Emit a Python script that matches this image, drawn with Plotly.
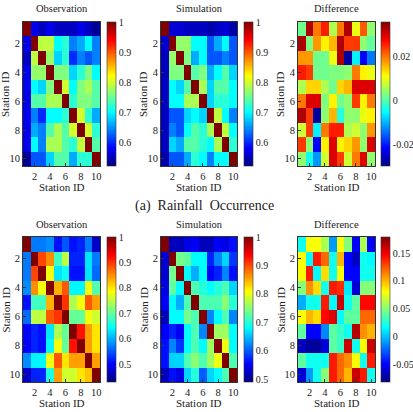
import plotly.graph_objects as go

stations = list(range(1, 11))
tick_vals = [2, 4, 6, 8, 10]

occ_obs = [
    [1.00, 0.57, 0.55, 0.57, 0.55, 0.55, 0.55, 0.57, 0.55, 0.53],
    [0.57, 1.00, 0.79, 0.79, 0.70, 0.72, 0.64, 0.66, 0.70, 0.64],
    [0.55, 0.79, 1.00, 0.77, 0.68, 0.72, 0.60, 0.64, 0.62, 0.64],
    [0.57, 0.77, 0.77, 1.00, 0.76, 0.76, 0.68, 0.72, 0.76, 0.70],
    [0.57, 0.70, 0.68, 0.76, 1.00, 0.80, 0.70, 0.76, 0.78, 0.74],
    [0.57, 0.74, 0.74, 0.78, 0.78, 1.00, 0.72, 0.76, 0.76, 0.74],
    [0.57, 0.64, 0.60, 0.70, 0.70, 0.72, 1.00, 0.80, 0.72, 0.66],
    [0.57, 0.66, 0.64, 0.74, 0.78, 0.74, 0.80, 1.00, 0.80, 0.72],
    [0.57, 0.70, 0.64, 0.78, 0.78, 0.74, 0.72, 0.79, 1.00, 0.74],
    [0.53, 0.62, 0.62, 0.68, 0.74, 0.74, 0.66, 0.72, 0.72, 1.00],
]
occ_sim = [
    [1.00, 0.56, 0.56, 0.55, 0.55, 0.55, 0.54, 0.55, 0.56, 0.54],
    [0.56, 1.00, 0.77, 0.77, 0.70, 0.70, 0.62, 0.66, 0.70, 0.62],
    [0.55, 0.77, 1.00, 0.76, 0.66, 0.70, 0.62, 0.62, 0.64, 0.62],
    [0.55, 0.76, 0.76, 1.00, 0.74, 0.76, 0.66, 0.70, 0.74, 0.68],
    [0.55, 0.70, 0.68, 0.74, 1.00, 0.78, 0.68, 0.74, 0.74, 0.70],
    [0.55, 0.70, 0.70, 0.78, 0.78, 1.00, 0.68, 0.72, 0.72, 0.70],
    [0.55, 0.62, 0.62, 0.68, 0.70, 0.68, 1.00, 0.79, 0.70, 0.64],
    [0.55, 0.64, 0.62, 0.70, 0.74, 0.72, 0.78, 1.00, 0.79, 0.70],
    [0.55, 0.68, 0.66, 0.74, 0.74, 0.72, 0.70, 0.78, 1.00, 0.72],
    [0.54, 0.62, 0.62, 0.66, 0.72, 0.70, 0.64, 0.70, 0.70, 1.00],
]
occ_diff = [
    [0.002, 0.033, 0.020, 0.026, 0.006, 0.020, 0.033, 0.010, 0.022, 0.004],
    [0.033, 0.003, 0.018, 0.012, 0.016, 0.033, 0.024, 0.024, 0.004, 0.001],
    [0.018, 0.018, 0.002, 0.002, 0.010, 0.033, -0.028, -0.006, -0.022, -0.014],
    [0.026, 0.024, 0.002, 0.002, 0.003, 0.003, 0.004, 0.020, 0.012, 0.010],
    [0.006, 0.014, 0.014, 0.006, 0.002, 0.014, 0.016, 0.030, 0.030, 0.030],
    [0.020, 0.030, 0.030, 0.003, 0.012, 0.002, 0.004, 0.024, 0.012, 0.020],
    [0.033, 0.024, -0.028, 0.004, 0.016, -0.003, 0.004, 0.004, 0.010, 0.012],
    [0.008, 0.024, -0.006, 0.020, 0.026, 0.026, 0.006, 0.008, 0.004, 0.018],
    [0.024, 0.004, -0.022, 0.012, 0.030, 0.012, 0.014, 0.018, 0.004, 0.030],
    [0.004, -0.004, -0.012, 0.008, 0.030, 0.024, 0.008, 0.020, 0.030, 0.004],
]
amt_obs = [
    [1.00, 0.57, 0.57, 0.58, 0.51, 0.55, 0.51, 0.52, 0.57, 0.47],
    [0.57, 1.00, 0.89, 0.85, 0.68, 0.75, 0.52, 0.52, 0.63, 0.57],
    [0.57, 0.89, 1.00, 0.78, 0.63, 0.65, 0.51, 0.51, 0.63, 0.56],
    [0.58, 0.85, 0.78, 1.00, 0.83, 0.88, 0.64, 0.64, 0.78, 0.69],
    [0.51, 0.68, 0.68, 0.83, 1.00, 0.90, 0.74, 0.78, 0.88, 0.84],
    [0.56, 0.75, 0.75, 0.88, 0.90, 1.00, 0.70, 0.70, 0.78, 0.76],
    [0.50, 0.52, 0.51, 0.63, 0.74, 0.70, 1.00, 0.92, 0.84, 0.80],
    [0.50, 0.52, 0.51, 0.64, 0.78, 0.70, 0.92, 1.00, 0.84, 0.80],
    [0.58, 0.64, 0.64, 0.78, 0.88, 0.80, 0.84, 0.84, 1.00, 0.84],
    [0.47, 0.52, 0.52, 0.66, 0.84, 0.76, 0.76, 0.80, 0.82, 1.00],
]
amt_sim = [
    [1.00, 0.52, 0.52, 0.54, 0.55, 0.52, 0.52, 0.55, 0.54, 0.56],
    [0.53, 1.00, 0.74, 0.73, 0.68, 0.68, 0.57, 0.62, 0.66, 0.58],
    [0.53, 0.74, 1.00, 0.68, 0.64, 0.68, 0.55, 0.57, 0.62, 0.56],
    [0.54, 0.73, 0.68, 1.00, 0.72, 0.70, 0.68, 0.70, 0.72, 0.66],
    [0.55, 0.68, 0.64, 0.72, 1.00, 0.72, 0.72, 0.72, 0.75, 0.70],
    [0.52, 0.68, 0.68, 0.74, 0.72, 1.00, 0.62, 0.68, 0.72, 0.62],
    [0.55, 0.57, 0.55, 0.68, 0.72, 0.62, 1.00, 0.76, 0.76, 0.68],
    [0.56, 0.62, 0.58, 0.68, 0.72, 0.68, 0.76, 1.00, 0.80, 0.68],
    [0.56, 0.66, 0.66, 0.72, 0.75, 0.72, 0.76, 0.80, 1.00, 0.72],
    [0.52, 0.56, 0.54, 0.66, 0.70, 0.60, 0.66, 0.68, 0.72, 1.00],
]
amt_diff = [
    [0.020, 0.080, 0.080, 0.060, -0.010, 0.080, 0.050, -0.050, 0.060, -0.050],
    [0.080, 0.015, 0.140, 0.120, 0.020, 0.100, -0.050, -0.065, 0.020, 0.015],
    [0.080, 0.140, 0.015, 0.090, 0.020, 0.080, -0.050, -0.050, 0.020, 0.020],
    [0.050, 0.110, 0.090, 0.020, 0.140, 0.135, 0.010, -0.060, 0.050, 0.050],
    [-0.005, 0.020, 0.020, 0.140, 0.015, 0.160, 0.020, 0.040, 0.145, 0.145],
    [0.080, 0.100, 0.090, 0.145, 0.155, 0.015, 0.040, 0.040, 0.120, 0.120],
    [0.040, -0.050, -0.050, -0.015, 0.040, 0.030, 0.020, 0.165, 0.110, 0.100],
    [-0.065, -0.075, -0.075, -0.060, 0.040, 0.030, 0.160, 0.020, 0.080, 0.160],
    [0.040, 0.020, 0.020, 0.020, 0.140, 0.120, 0.110, 0.080, 0.020, 0.140],
    [-0.060, -0.010, 0.020, 0.050, 0.140, 0.120, 0.100, 0.160, 0.140, 0.020],
]

panel_titles = ["Observation", "Simulation", "Difference"]
caption = "(a)  Rainfall  Occurrence"

jet = [[0, "rgb(0,0,128)"], [0.125, "rgb(0,0,255)"], [0.375, "rgb(0,255,255)"],
       [0.625, "rgb(255,255,0)"], [0.875, "rgb(255,0,0)"], [1, "rgb(128,0,0)"]]

W, H = 413, 412
FONT = "Liberation Serif"

panels = [
    (occ_obs, 0.52, 1.0, [0.6, 0.7, 0.8, 0.9, 1.0], ["0.6", "0.7", "0.8", "0.9", "1"], 0, 0),
    (occ_sim, 0.52, 1.0, [0.6, 0.7, 0.8, 0.9, 1.0], ["0.6", "0.7", "0.8", "0.9", "1"], 1, 0),
    (occ_diff, -0.030, 0.036, [-0.02, 0, 0.02], ["-0.02", "0", "0.02"], 2, 0),
    (amt_obs, 0.43, 1.0, [0.5, 0.6, 0.7, 0.8, 0.9, 1.0], ["0.5", "0.6", "0.7", "0.8", "0.9", "1"], 0, 1),
    (amt_sim, 0.49, 1.0, [0.5, 0.6, 0.7, 0.8, 0.9, 1.0], ["0.5", "0.6", "0.7", "0.8", "0.9", "1"], 1, 1),
    (amt_diff, -0.082, 0.179, [-0.05, 0, 0.05, 0.1, 0.15], ["-0.05", "0", "0.05", "0.1", "0.15"], 2, 1),
]

col_px = [(23, 100), (161, 237), (298, 375)]
cb_px = [107, 244, 381]
row_px = [(22, 166), (237, 382)]

fig = go.Figure()
annotations = []
layout = {}
for i, (z, zmin, zmax, tv, tt, c, r) in enumerate(panels):
    n = i + 1
    xa = "x" if n == 1 else f"x{n}"
    ya = "y" if n == 1 else f"y{n}"
    x0, x1 = col_px[c]
    y0, y1 = row_px[r]
    fig.add_trace(go.Heatmap(
        z=z, x=stations, y=stations, zmin=zmin, zmax=zmax, colorscale=jet,
        xaxis=xa, yaxis=ya, xgap=0, ygap=0,
        colorbar=dict(x=cb_px[c] / W, xanchor="left", thickness=9, xpad=0, ypad=0,
                      y=1 - y0 / H, yanchor="top", len=(y1 - y0) / H, lenmode="fraction",
                      tickvals=tv, ticktext=tt, ticks="",
                      outlinewidth=0.6, outlinecolor="#333",
                      tickfont=dict(family=FONT, size=10, color="#222")),
    ))
    axkey_x = "xaxis" if n == 1 else f"xaxis{n}"
    axkey_y = "yaxis" if n == 1 else f"yaxis{n}"
    common = dict(tickvals=tick_vals, ticks="inside", ticklen=3, tickcolor="#333",
                  showline=True, mirror=True, linecolor="#333", linewidth=0.8,
                  showgrid=False, zeroline=False,
                  tickfont=dict(family=FONT, size=10.5, color="#222"))
    layout[axkey_x] = dict(domain=[x0 / W, x1 / W], anchor=ya, range=[0.5, 10.5], **common)
    layout[axkey_y] = dict(domain=[1 - y1 / H, 1 - y0 / H], anchor=xa, range=[10.5, 0.5], **common)
    annotations.append(dict(text=panel_titles[c], x=(x0 + x1) / 2 / W, y=1 - (y0 - 13) / H,
                            xref="paper", yref="paper", showarrow=False,
                            xanchor="center", yanchor="middle",
                            font=dict(family=FONT, size=10.5, color="#222")))
    annotations.append(dict(text="Station ID", x=(x0 + x1) / 2 / W, y=1 - (y1 + 21) / H,
                            xref="paper", yref="paper", showarrow=False,
                            xanchor="center", yanchor="middle",
                            font=dict(family=FONT, size=11, color="#222")))
    annotations.append(dict(text="Station ID", x=(x0 - 18) / W, y=1 - (y0 + y1) / 2 / H,
                            xref="paper", yref="paper", showarrow=False, textangle=-90,
                            xanchor="center", yanchor="middle",
                            font=dict(family=FONT, size=11, color="#222")))

annotations.append(dict(text=caption, x=204 / W, y=1 - 206 / H, xref="paper", yref="paper",
                        showarrow=False, xanchor="center", yanchor="middle",
                        font=dict(family=FONT, size=14, color="#222")))

fig.update_layout(width=W, height=H, margin=dict(l=0, r=0, t=0, b=0),
                  paper_bgcolor="white", plot_bgcolor="white",
                  font=dict(family=FONT),
                  annotations=annotations, showlegend=False, **layout)

fig.write_html("out.html")
